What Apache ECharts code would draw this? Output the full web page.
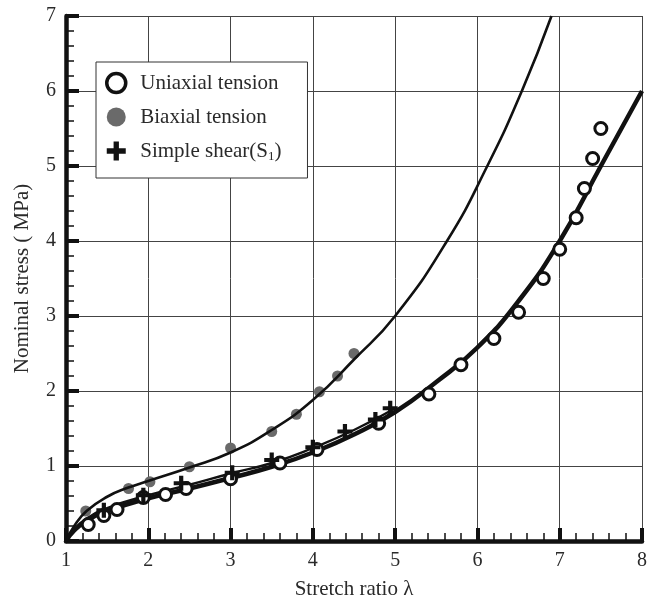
<!DOCTYPE html>
<html>
<head>
<meta charset="utf-8">
<script src="https://cdn.jsdelivr.net/npm/echarts@6/dist/echarts.min.js"></script>
<style>
  html, body { margin: 0; padding: 0; background: #fff; }
  #chart { width: 650px; height: 605px; }
</style>
</head>
<body>
<div id="chart"></div>
<script>
  // measured points (stretch ratio, nominal stress MPa)
  var uniaxialPts = [
    [1.27, 0.22], [1.46, 0.34], [1.62, 0.42], [1.94, 0.58], [2.21, 0.62],
    [2.46, 0.7], [3.0, 0.83], [3.6, 1.04], [4.05, 1.22], [4.8, 1.57],
    [5.41, 1.96], [5.8, 2.35], [6.2, 2.7], [6.5, 3.05], [6.8, 3.5],
    [7.0, 3.89], [7.2, 4.31], [7.3, 4.7], [7.4, 5.1], [7.5, 5.5]
  ];
  var biaxialPts = [
    [1.24, 0.4], [1.76, 0.7], [2.02, 0.79], [2.5, 0.99], [3.0, 1.24],
    [3.5, 1.46], [3.8, 1.69], [4.08, 1.99], [4.3, 2.2], [4.5, 2.5]
  ];
  var shearPts = [
    [1.46, 0.41], [1.94, 0.61], [2.4, 0.77], [3.02, 0.91], [3.5, 1.08],
    [4.0, 1.25], [4.39, 1.46], [4.76, 1.62], [4.94, 1.77]
  ];

  // model curves
  var uniaxialFit = [
    [1, 0], [1.1, 0.14], [1.25, 0.27], [1.5, 0.4], [2, 0.57], [2.5, 0.7],
    [3, 0.84], [3.5, 0.99], [4, 1.18], [4.5, 1.42], [5, 1.72], [5.5, 2.12],
    [6, 2.58], [6.5, 3.2], [7, 4.0], [7.5, 5.0], [8, 6.0]
  ];
  var biaxialFit = [
    [1, 0], [1.1, 0.2], [1.25, 0.4], [1.5, 0.59], [1.75, 0.71], [2, 0.8],
    [2.5, 0.98], [3, 1.18], [3.5, 1.48], [4, 1.88], [4.5, 2.42], [5, 3.0],
    [5.63, 4.0], [6.12, 5.0], [6.54, 6.0], [6.9, 7.0]
  ];
  var shearFit = [
    [1, 0], [1.1, 0.16], [1.25, 0.3], [1.5, 0.44], [2, 0.61], [2.5, 0.75],
    [3, 0.9], [3.5, 1.04], [4, 1.24], [4.5, 1.48], [5, 1.77]
  ];

  var serif = '"Liberation Serif", "DejaVu Serif", serif';
  var plusPath = 'path://M3.6,0 H6.4 V3.6 H10 V6.4 H6.4 V10 H3.6 V6.4 H0 V3.6 H3.6 Z';

  var myChart = echarts.init(document.getElementById('chart'));

  var axisCommon = {
    type: 'value',
    interval: 1,
    axisLine: { show: true, lineStyle: { color: '#111', width: 4.5 } },
    axisTick: { show: true, inside: true, length: 13, lineStyle: { color: '#111', width: 4 } },
    minorTick: { show: true, splitNumber: 5, length: 8, lineStyle: { color: '#111', width: 1.5 } },
    splitLine: { show: true, lineStyle: { color: '#444', width: 1 } },
    axisLabel: { fontFamily: serif, fontSize: 20, color: '#2a2a2a' },
    nameLocation: 'middle',
    nameTextStyle: { fontFamily: serif, fontSize: 21, color: '#2a2a2a' }
  };

  myChart.setOption({
    backgroundColor: '#fff',
    animation: false,
    grid: { left: 66, right: 2, top: 16, bottom: 57 },
    xAxis: Object.assign({}, axisCommon, {
      min: 1, max: 8,
      name: 'Stretch ratio λ',
      nameGap: 38,
      axisLabel: Object.assign({}, axisCommon.axisLabel, { margin: 10 })
    }),
    yAxis: Object.assign({}, axisCommon, {
      min: 0, max: 7,
      name: 'Nominal stress ( MPa)',
      nameGap: 33,
      axisLabel: Object.assign({}, axisCommon.axisLabel, { margin: 10 })
    }),
    legend: {
      orient: 'vertical',
      left: 96,
      top: 62,
      padding: [9, 26, 15, 9],
      itemGap: 10,
      itemWidth: 30,
      itemHeight: 19,
      backgroundColor: '#fff',
      borderColor: '#333',
      borderWidth: 1,
      borderRadius: 0,
      selectedMode: false,
      data: [
        { name: 'Uniaxial tension', itemStyle: { color: '#fff', borderColor: '#111', borderWidth: 3.5 } },
        { name: 'Biaxial tension' },
        { name: 'Simple shear(S1)' }
      ],
      formatter: function (name) {
        return name.replace('(S1)', '(S{sub|1})');
      },
      textStyle: {
        fontFamily: serif, fontSize: 21, color: '#2a2a2a', lineHeight: 24,
        padding: [0, 0, 0, 4],
        rich: {
          sub: { fontFamily: serif, fontSize: 13, color: '#2a2a2a', verticalAlign: 'bottom', lineHeight: 24, padding: [10, 0, 0, 0] }
        }
      }
    },
    series: [
      {
        name: 'Biaxial tension', type: 'scatter', data: biaxialPts,
        symbol: 'circle', symbolSize: 11,
        itemStyle: { color: '#6a6a6a', opacity: 1 }, z: 1
      },
      {
        name: 'uniaxialFit', type: 'line', data: uniaxialFit, smooth: true,
        showSymbol: false, lineStyle: { color: '#111', width: 4.5 }, z: 2
      },
      {
        name: 'biaxialFit', type: 'line', data: biaxialFit, smooth: true,
        showSymbol: false, lineStyle: { color: '#111', width: 2.6 }, z: 2
      },
      {
        name: 'shearFit', type: 'line', data: shearFit, smooth: true,
        showSymbol: false, lineStyle: { color: '#111', width: 2.4 }, z: 2
      },
      {
        name: 'Uniaxial tension', type: 'scatter', data: uniaxialPts,
        symbol: 'circle', symbolSize: 12,
        itemStyle: { color: '#fff', borderColor: '#111', borderWidth: 3, opacity: 1 }, z: 3
      },
      {
        name: 'Simple shear(S1)', type: 'scatter', data: shearPts,
        symbol: plusPath, symbolSize: 15,
        itemStyle: { color: '#111', opacity: 1 }, z: 4
      }
    ]
  });
</script>
</body>
</html>
